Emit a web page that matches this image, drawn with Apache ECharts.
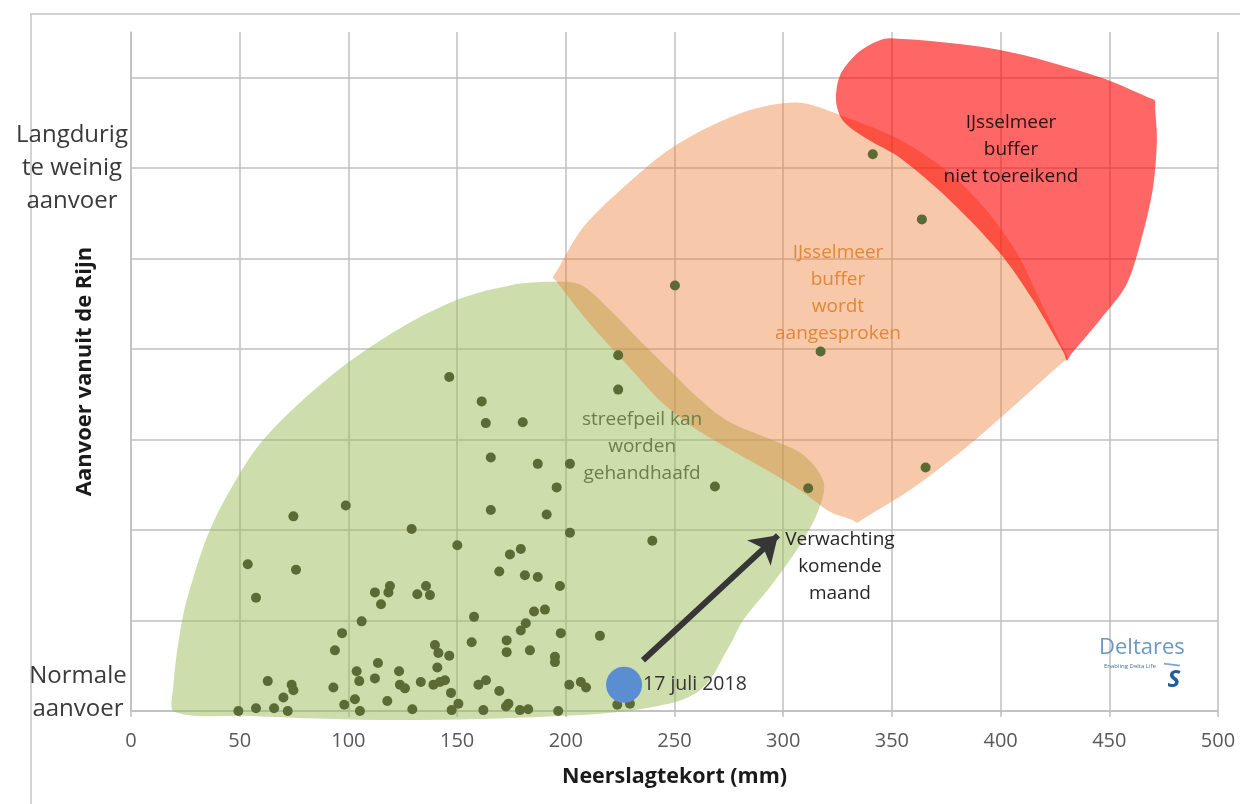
<!DOCTYPE html>
<html><head><meta charset="utf-8">
<script src="https://cdn.jsdelivr.net/npm/echarts@6/dist/echarts.min.js"></script>
<style>html,body{margin:0;padding:0;background:#fff}#c{width:1240px;height:804px}</style>
</head><body><div id="c"></div>
<script>
// ---- axis definitions ----
const xMin = 0, xMax = 500, xStep = 50;
const yMin = 0, yMax = 7.5, yStep = 1;
const xAxisTitle = 'Neerslagtekort (mm)';
const yAxisTitle = 'Aanvoer vanuit de Rijn';
const yLevelValues = [0, 6];
const yLevelLabels = ['Normale\naanvoer', 'Langdurig\nte weinig\naanvoer'];

// ---- historic situations (neerslagtekort mm, aanvoer level) ----
const historicPoints = [
 [146.4,3.69],[161.3,3.42],[163.2,3.18],[180.2,3.19],[165.5,2.80],[187.1,2.73],[165.5,2.22],[191.2,2.17],
 [74.7,2.15],[98.8,2.27],[129.1,2.01],[150.1,1.83],[53.7,1.62],[75.9,1.56],[57.5,1.25],[174.3,1.73],
 [179.3,1.79],[169.4,1.54],[181.2,1.50],[187.1,1.48],[112.2,1.31],[118.4,1.31],[119.1,1.38],[115.0,1.18],
 [131.7,1.29],[135.7,1.38],[137.5,1.28],[106.1,0.99],[97.1,0.86],[93.8,0.67],[157.8,1.04],[185.4,1.10],
 [190.4,1.12],[181.6,0.97],[179.3,0.89],[156.7,0.76],[172.8,0.78],[172.8,0.65],[183.5,0.67],[139.8,0.73],
 [141.4,0.64],[146.4,0.61],[140.9,0.48],[113.6,0.53],[103.8,0.44],[105.0,0.33],[112.2,0.36],[123.3,0.44],
 [123.7,0.29],[126.0,0.25],[133.3,0.32],[139.1,0.29],[142.1,0.32],[144.4,0.34],[159.8,0.29],[163.3,0.34],
 [169.4,0.22],[147.2,0.20],[150.6,0.08],[147.5,0.01],[162.1,0.01],[173.6,0.08],[172.5,0.05],[178.9,0.01],
 [182.7,0.02],[129.4,0.02],[117.9,0.11],[105.3,0.00],[103.0,0.13],[98.1,0.07],[93.1,0.26],[62.9,0.33],
 [73.9,0.29],[74.7,0.23],[70.1,0.15],[72.1,0.00],[65.8,0.03],[57.5,0.03],[49.4,0.00],[197.3,1.38],
 [197.7,0.86],[215.7,0.83],[195.0,0.60],[195.0,0.54],[201.6,0.29],[206.9,0.32],[209.3,0.26],[196.5,0.00],
 [223.7,0.07],[229.5,0.08],[224.1,3.55],[201.9,2.73],[195.8,2.47],[201.9,1.97],[239.8,1.88],[341.2,6.15],
 [363.8,5.43],[250.2,4.70],[224.1,3.93],[317.2,3.97],[365.5,2.69],[311.5,2.46],[268.6,2.48]
];
const currentPoint = [[226.8, 0.29]];
const currentLabel = '17 juli 2018';
const forecastArrow = [[235.5, 0.56], [297.6, 1.94]];

// ---- zones (outline in data units) ----
const greenZone = [
 [20.2,-0.01],[19.3,0.23],[23.5,1.0],[29,1.5],[36.3,2.0],[47,2.5],[60.7,2.99],[86.9,3.6],[114.5,4.09],[146.7,4.51],
 [174.3,4.70],[194.1,4.74],[206.5,4.71],[219,4.46],[234.1,4.09],[249.3,3.73],[260.3,3.47],[274.1,3.21],
 [295.3,2.99],[309.1,2.83],[318.3,2.55],[317.8,2.33],[311,1.96],[295.3,1.41],[281.5,1.0],[275.5,0.73],
 [261.7,0.23],[238.7,0.04],[197.3,-0.055],[123.7,-0.1],[54.7,-0.055]
];
const orangeZone = [
 [306.3,6.72],[327.5,6.57],[353.7,6.31],[376.7,5.94],[392.8,5.55],[407.5,5.06],[418.1,4.54],[429.5,3.97],[431.0,3.90],[429.0,3.86],
 [408.9,3.43],[383.6,2.90],[358.3,2.44],[336.0,2.11],[333.9,2.08],[331.8,2.11],[321.5,2.20],[307.7,2.44],[293.9,2.64],[275.5,2.89],
 [257.1,3.16],[243.3,3.43],[229.5,3.79],[215.7,4.15],[204.2,4.48],[195.6,4.75],[194.1,4.79],[195.6,4.85],[207.9,5.34],[226.3,5.78],
 [249.3,6.23],[280.1,6.60]
];
const redZone = [
 [349.1,7.43],[399.7,7.30],[445.7,7.00],[468.6,6.77],[471.0,6.74],[471.1,6.66],[471.9,6.30],[470.1,5.78],[465.5,5.28],[458.1,4.72],
 [445.7,4.32],[432.4,3.94],[430.5,3.87],[429.2,3.95],[414.9,4.54],[399.7,5.06],[376.7,5.64],[353.7,6.11],[338.5,6.32],[327.5,6.52],
 [324.3,6.74],[326.1,7.02],[333.0,7.24],[339.9,7.36]
];

// ---- annotations (text, anchor in data units) ----
const zoneLabels = [
 {text:'streefpeil kan\nworden\ngehandhaafd', at:[235.1,2.92], color:'#6f7d48'},
 {text:'IJsselmeer\nbuffer\nwordt\naangesproken', at:[325.2,4.62], color:'#e08835'},
 {text:'IJsselmeer\nbuffer\nniet toereikend', at:[404.8,6.20], color:'#2a1414'},
 {text:'Verwachting\nkomende\nmaand', at:[326.1,1.59], color:'#262626'}
];

const FONT = '"Open Sans", sans-serif';
function zone(name, pts, fill, smooth) {
  return {
    type:'custom', name, silent:true, clip:false, data:[[0,0]],
    renderItem:(params, api) => ({
      type:'polygon',
      shape:{points: pts.map(p => api.coord(p)), smooth},
      style:{fill}
    })
  };
}

const chart = echarts.init(document.getElementById('c'));
const option = {
  animation:false,
  backgroundColor:'#ffffff',
  grid:{left:131, right:22, top:32, bottom:93},
  xAxis:{
    type:'value', min:xMin, max:xMax, interval:xStep,
    name:xAxisTitle, nameLocation:'middle', nameGap:55,
    nameTextStyle:{fontFamily:FONT, fontSize:21.5, fontWeight:'bold', color:'#1a1a1a'},
    axisLine:{lineStyle:{color:'#bfbfbf', width:1.5}},
    axisTick:{show:true, length:6, lineStyle:{color:'#bfbfbf', width:1.5}},
    axisLabel:{fontFamily:FONT, fontSize:20, color:'#595959', margin:20},
    splitLine:{lineStyle:{color:'#bfbfbf', width:1.5}}
  },
  yAxis:{
    type:'value', min:yMin, max:yMax, interval:yStep,
    name:yAxisTitle, nameLocation:'middle', nameRotate:90, nameGap:35,
    nameTextStyle:{fontFamily:FONT, fontSize:22, fontWeight:'bold', color:'#1a1a1a'},
    axisLine:{show:true, lineStyle:{color:'#bfbfbf', width:1.5}},
    axisTick:{show:false},
    axisLabel:{show:false},
    splitLine:{showMaxLine:false, lineStyle:{color:'#bfbfbf', width:1.5}}
  },
  series:[
    zone('streefpeil', greenZone, 'rgba(155,187,89,0.5)', 0.35),
    {type:'scatter', name:'historie', data:historicPoints, symbolSize:10, silent:true,
     itemStyle:{color:'#5c6a35', opacity:1}},
    zone('buffer', orangeZone, 'rgba(237,125,49,0.42)', 0.3),
    zone('tekort', redZone, 'rgba(255,0,0,0.6)', 0.3),
    {type:'lines', coordinateSystem:'cartesian2d', silent:true,
     data:[{coords:forecastArrow}], symbol:['none','arrow'], symbolSize:26,
     lineStyle:{color:'#363636', width:6, opacity:1}},
    {type:'scatter', name:'huidig', data:currentPoint, symbolSize:36, silent:true,
     itemStyle:{color:'#5b8ed1', opacity:1},
     label:{show:true, position:'right', distance:1, formatter:currentLabel,
            fontFamily:FONT, fontSize:19.5, color:'#333333'}}
  ]
};
chart.setOption(option);

const toPx = v => chart.convertToPixel({gridIndex:0}, v);
const g = [];
// frame lines
g.push({type:'line', z:100, shape:{x1:30, y1:14, x2:1240, y2:14}, style:{stroke:'#c4c4c4', lineWidth:1.5}, silent:true});
g.push({type:'line', z:100, shape:{x1:31, y1:14, x2:31, y2:804}, style:{stroke:'#c4c4c4', lineWidth:1.5}, silent:true});
// y level labels
yLevelValues.forEach((v, i) => {
  const p = toPx([xMin, v]);
  const isBottom = v === yMin;
  g.push({type:'text', z:100, silent:true,
    x: isBottom ? p[0]-53 : p[0]-59,
    y: isBottom ? p[1]+15 : p[1],
    style:{text:yLevelLabels[i], fontFamily:FONT, fontSize:24, lineHeight:33, fill:'#3a3a3a',
           align:'center', verticalAlign: isBottom ? 'bottom' : 'middle'}});
});
// zone labels
zoneLabels.forEach(l => {
  const p = toPx(l.at);
  g.push({type:'text', z:100, silent:true, x:p[0], y:p[1],
    style:{text:l.text, fontFamily:FONT, fontSize:19, lineHeight:27, fill:l.color,
           align:'center', verticalAlign:'middle'}});
});
// Deltares logo
const lp = toPx([465, 0.70]);
g.push({type:'text', z:100, silent:true, x:lp[0], y:lp[1],
  style:{text:'Deltares', fontFamily:FONT, fontSize:22, fill:'#6b98c2', align:'center', verticalAlign:'middle'}});
g.push({type:'text', z:100, silent:true, x:lp[0]-12, y:lp[1]+19,
  style:{text:'Enabling Delta Life', fontFamily:FONT, fontSize:6, fill:'#3a6fa8', align:'center', verticalAlign:'middle'}});
g.push({type:'text', z:100, silent:true, x:lp[0]+32, y:lp[1]+33,
  style:{text:'S', fontFamily:FONT, fontSize:24, fontWeight:'bold', fontStyle:'italic', fill:'#1f5fa0', align:'center', verticalAlign:'middle'}});
g.push({type:'line', z:100, silent:true, shape:{x1:lp[0]+22, y1:lp[1]+16, x2:lp[0]+38, y2:lp[1]+18},
  style:{stroke:'#7fa6c8', lineWidth:2}});
chart.setOption({graphic:g});
</script>
</body></html>
